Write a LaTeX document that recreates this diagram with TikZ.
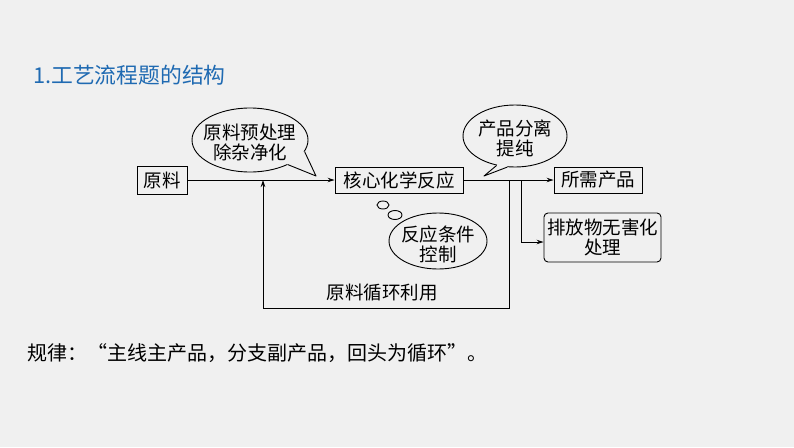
\documentclass[tikz,border=0pt]{standalone}
\usepackage{fontspec}
\setmainfont{Noto Sans CJK SC}
\usetikzlibrary{shapes.geometric,arrows.meta}
\definecolor{bgc}{RGB}{240,240,240}
\definecolor{titleblue}{RGB}{31,106,178}
\tikzset{
  box/.style={draw, line width=0.9pt, inner sep=0pt, font=\fontsize{18.5}{21}\selectfont},
  rbox/.style={box, rounded corners=4pt, align=center},
  bubble/.style={draw, ellipse, line width=0.9pt, inner sep=0pt, fill=bgc},
  txt/.style={inner sep=0pt, align=center, font=\fontsize{18.5}{21}\selectfont},
  conn/.style={line width=0.9pt},
  arr/.style={conn, -{Stealth[length=7pt,width=4.5pt]}},
}
\begin{document}
\begin{tikzpicture}[x=1pt,y=-1pt]
\fill[bgc] (0,0) rectangle (794,447);
\useasboundingbox (0,0) rectangle (794,447);

% title
\node[anchor=west, inner sep=0pt, text=titleblue, font=\fontsize{21.8}{26}\selectfont] (title) at (33,75) {1.工艺流程题的结构};

% boxes
\node[box, minimum width=50pt, minimum height=28pt] (raw) at (162,180) {原料};
\node[box, minimum width=128pt, minimum height=26pt] (core) at (399,180) {核心化学反应};
\node[box, minimum width=88pt, minimum height=26pt] (prod) at (598,180) {所需产品};
\node[rbox, minimum width=117pt, minimum height=49pt] (waste) at (602.5,237.5) {排放物无害化\\[-1pt]处理};

% bubbles
\node[bubble, minimum width=116pt, minimum height=64pt] (b1) at (250,140) {};
\node[bubble, minimum width=104pt, minimum height=62pt] (b2) at (515,136) {};
\node[bubble, minimum width=98pt, minimum height=56pt] (b3) at (438,241) {};
\node[bubble, minimum width=12pt, minimum height=8pt] (s1) at (383,205) {};
\node[bubble, minimum width=14pt, minimum height=9pt] (s2) at (395,215) {};

% tails
\coordinate (t1) at (316,176);
\coordinate (t2) at (484,176);
\fill[bgc] (b1.-12) -- (t1) -- (b1.-33) -- (b1.center) -- cycle;
\draw[conn, line join=round] (b1.-12) -- (t1) -- (b1.-33);
\fill[bgc] (b2.-104) -- (t2) -- (b2.-122) -- (b2.center) -- cycle;
\draw[conn, line join=round] (b2.-104) -- (t2) -- (b2.-122);

% bubble texts
\node[txt] (b1t) at (250,142) {原料预处理\\[-1pt]除杂净化};
\node[txt] (b2t) at (515,138) {产品分离\\[-1pt]提纯};
\node[txt] (b3t) at (438,244) {反应条件\\[-1pt]控制};

% connectors
\coordinate (j1) at (509,180);
\coordinate (c1) at (509,308);
\coordinate (c2) at (263,308);
\coordinate (j2) at (263,180);
\coordinate (j3) at (521,180);
\coordinate (c3) at (521,242);

\draw[arr] (raw.east) -- (core.west);
\draw[arr] (core.east) -- (prod.west);
\draw[arr] (j1) -- (c1) -- (c2) -- (j2);
\draw[arr] (j3) -- (c3) -- (c3 -| waste.west);

\node[txt] (loop) at (382,293) {原料循环利用};

% rule text
\node[anchor=west, inner sep=0pt, font=\fontsize{20}{24}\selectfont] (rule) at (27,353) {规律：“主线主产品，分支副产品，回头为循环”。};
\end{tikzpicture}
\end{document}
